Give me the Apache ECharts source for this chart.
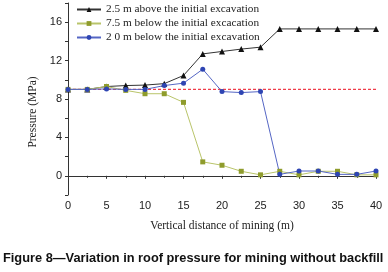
<!DOCTYPE html>
<html>
<head>
<meta charset="utf-8">
<script src="https://cdn.jsdelivr.net/npm/echarts@6/dist/echarts.min.js"></script>
<style>
  html, body { margin: 0; padding: 0; background: #fff; }
  #chart { width: 388px; height: 272px; }
</style>
</head>
<body>
<div id="chart"></div>
<script>
var distance = [0, 2.5, 5, 7.5, 10, 12.5, 15, 17.5, 20, 22.5, 25, 27.5, 30, 32.5, 35, 37.5, 40];
var above25 = [9.0, 9.0, 9.3, 9.4, 9.45, 9.6, 10.45, 12.7, 12.95, 13.2, 13.4, 15.3, 15.3, 15.3, 15.3, 15.3, 15.3];
var below75 = [9.0, 9.0, 9.3, 8.9, 8.55, 8.55, 7.65, 1.45, 1.1, 0.47, 0.1, 0.47, 0.1, 0.47, 0.47, 0.1, 0.1];
var below20 = [9.0, 9.0, 9.05, 9.0, 9.0, 9.4, 9.65, 11.1, 8.77, 8.67, 8.77, 0.15, 0.5, 0.5, 0.15, 0.15, 0.5];
var seriesNames = ['2.5 m above the initial excavation', '7.5 m below the initial excacation', '2 0 m below the initial excavation'];
var initialPressure = 9;
var captionText = 'Figure 8\u2014Variation in roof pressure for mining without backfill';

function pairs(vals) {
    return distance.map(function (d, i) { return [d, vals[i]]; });
}

var chart = echarts.init(document.getElementById('chart'));
var option = {
    animation: false,
    grid: { left: 68, right: 12, top: 3, bottom: 77 },
    title: {
        text: captionText,
        left: 3,
        top: 252,
        padding: 0,
        textStyle: { fontFamily: 'Liberation Sans, Arial', fontWeight: 'bold', fontSize: 12.8, color: '#111' }
    },
    legend: {
        orient: 'vertical',
        left: 76,
        top: 4,
        padding: 0,
        itemGap: 3,
        itemWidth: 24,
        itemHeight: 6,
        textStyle: { fontFamily: 'Liberation Serif, Times New Roman', fontSize: 11.3, color: '#222' },
        data: seriesNames
    },
    xAxis: {
        type: 'value',
        min: 0,
        max: 40,
        interval: 5,
        name: 'Vertical distance of mining (m)',
        nameLocation: 'middle',
        nameGap: 25,
        nameTextStyle: { fontFamily: 'Liberation Serif, Times New Roman', fontSize: 11.5, color: '#222' },
        axisLine: { lineStyle: { color: '#333', width: 1 } },
        axisTick: { length: 3, lineStyle: { color: '#333' } },
        minorTick: { show: true, splitNumber: 2, length: 2, lineStyle: { color: '#333' } },
        axisLabel: { margin: 5, fontFamily: 'Liberation Sans, Arial', fontSize: 11, color: '#222' },
        splitLine: { show: false }
    },
    yAxis: {
        type: 'value',
        min: -2,
        max: 18,
        interval: 2,
        name: 'Pressure (MPa)',
        nameLocation: 'middle',
        nameGap: 19,
        nameTextStyle: { fontFamily: 'Liberation Serif, Times New Roman', fontSize: 11.5, color: '#222', padding: [0, 26, 0, 0] },
        axisLine: { show: true, lineStyle: { color: '#333', width: 1 } },
        axisTick: { show: true, length: 3, lineStyle: { color: '#333' } },
        axisLabel: {
            margin: 6,
            fontFamily: 'Liberation Sans, Arial',
            fontSize: 11,
            color: '#222',
            formatter: function (v) { return v % 4 === 0 ? String(v) : ''; }
        },
        splitLine: { show: false }
    },
    series: [
        {
            name: 'initial',
            type: 'line',
            data: [[distance[0], initialPressure], [distance[distance.length - 1], initialPressure]],
            symbol: 'none',
            silent: true,
            z: 1,
            color: '#f03c4a',
            itemStyle: { color: '#f03c4a' },
            lineStyle: { color: '#f03c4a', type: [3, 2], width: 1.3 }
        },
        {
            name: seriesNames[0],
            type: 'line',
            data: pairs(above25),
            symbol: 'triangle',
            symbolSize: 6,
            itemStyle: { color: '#111' },
            lineStyle: { color: '#333', width: 1 }
        },
        {
            name: seriesNames[1],
            type: 'line',
            data: pairs(below75),
            symbol: 'rect',
            symbolSize: 5,
            itemStyle: { color: '#8f9c2c' },
            lineStyle: { color: '#b9c46a', width: 1 }
        },
        {
            name: seriesNames[2],
            type: 'line',
            data: pairs(below20),
            symbol: 'circle',
            symbolSize: 5,
            itemStyle: { color: '#2e45b3' },
            lineStyle: { color: '#5566c4', width: 1 }
        }
    ]
};
chart.setOption(option);
</script>
</body>
</html>
